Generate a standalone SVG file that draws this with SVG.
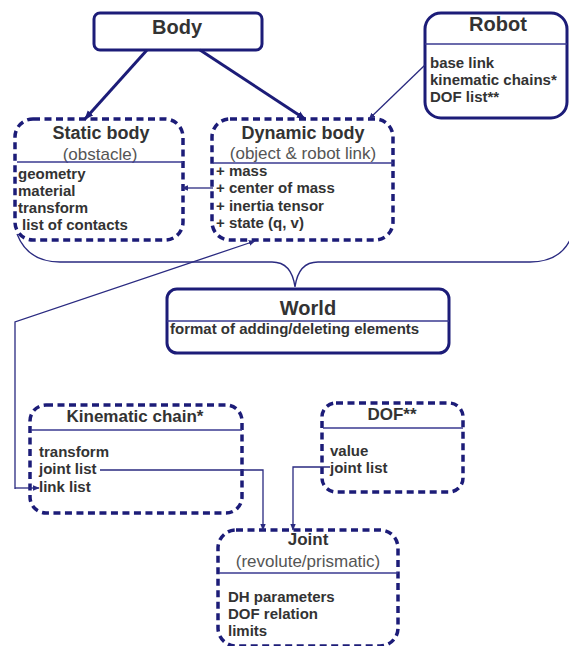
<svg xmlns="http://www.w3.org/2000/svg" width="569" height="646" viewBox="0 0 569 646">
<defs>
<marker id="ah" viewBox="0 0 10 10" refX="9" refY="5" markerWidth="9" markerHeight="9" markerUnits="userSpaceOnUse" orient="auto">
<path d="M0,1 L10,5 L0,9 Z" fill="#1c1c78"/>
</marker>
<marker id="ahs" viewBox="0 0 10 10" refX="9" refY="5" markerWidth="7" markerHeight="7" markerUnits="userSpaceOnUse" orient="auto">
<path d="M0,1 L10,5 L0,9 Z" fill="#2a2a80"/>
</marker>
</defs>
<style>
.box{fill:#fff;stroke:#1c1c78;stroke-width:3}
.dbox{fill:#fff;stroke:#1c1c78;stroke-width:3.5;stroke-dasharray:7 4.5}
.div{stroke:#3a3a90;stroke-width:1.5}
.title{font-family:"Liberation Sans",Arial,sans-serif;font-weight:bold;fill:#333;text-anchor:middle}
.sub{font-family:"Liberation Sans",Arial,sans-serif;font-size:17px;fill:#555;text-anchor:middle}
.item{font-family:"Liberation Sans",Arial,sans-serif;font-weight:bold;font-size:15px;fill:#333}
.thick{stroke:#1c1c78;stroke-width:3;fill:none}
.thin{stroke:#2a2a80;stroke-width:1.3;fill:none}
</style>
<rect width="569" height="646" fill="#fff"/>

<g id="body">
<rect class="box" x="94" y="13" width="168" height="37" rx="6"/>
<text class="title" x="177" y="34" font-size="20">Body</text>
</g>

<g id="robot">
<rect class="box" x="425" y="13" width="142" height="105" rx="16"/>
<text class="title" x="498" y="31" font-size="20">Robot</text>
<line class="div" x1="425" y1="44" x2="567" y2="44"/>
<text class="item" x="430" y="68">base link</text>
<text class="item" x="430" y="85">kinematic chains*</text>
<text class="item" x="430" y="102">DOF list**</text>
</g>

<g id="static-body">
<rect class="dbox" x="15" y="119" width="168" height="121" rx="18"/>
<text class="title" x="101" y="139" font-size="18">Static body</text>
<text class="sub" x="100" y="160">(obstacle)</text>
<line class="div" x1="17" y1="162" x2="183" y2="162"/>
<text class="item" x="18" y="179">geometry</text>
<text class="item" x="18" y="196">material</text>
<text class="item" x="18" y="213">transform</text>
<text class="item" x="22" y="230">list of contacts</text>
</g>

<g id="dynamic-body">
<rect class="dbox" x="212" y="119" width="181" height="121" rx="18"/>
<text class="title" x="303" y="139" font-size="18">Dynamic body</text>
<text class="sub" x="303" y="159">(object &amp; robot link)</text>
<line class="div" x1="213" y1="163" x2="393" y2="163"/>
<text class="item" x="216" y="176">+ mass</text>
<text class="item" x="216" y="193">+ center of mass</text>
<text class="item" x="216" y="211">+ inertia tensor</text>
<text class="item" x="216" y="228">+ state (q, v)</text>
</g>

<g id="world">
<rect class="box" x="167" y="289" width="282" height="64" rx="10"/>
<text class="title" x="308" y="315" font-size="20">World</text>
<line class="div" x1="167" y1="321" x2="449" y2="321"/>
<text class="item" x="170" y="334">format of adding/deleting elements</text>
</g>

<g id="kinematic-chain">
<rect class="dbox" x="30" y="405" width="212" height="108" rx="16"/>
<text class="title" x="135" y="422" font-size="17">Kinematic chain*</text>
<line class="div" x1="31" y1="430" x2="242" y2="430"/>
<text class="item" x="39" y="457">transform</text>
<text class="item" x="39" y="474">joint list</text>
<text class="item" x="39" y="492">link list</text>
</g>

<g id="dof">
<rect class="dbox" x="322" y="403" width="141" height="89" rx="14"/>
<text class="title" x="392" y="420" font-size="17">DOF**</text>
<line class="div" x1="323" y1="428" x2="463" y2="428"/>
<text class="item" x="330" y="456">value</text>
<text class="item" x="330" y="473">joint list</text>
</g>

<g id="joint">
<rect class="dbox" x="218" y="530" width="180" height="116" rx="18"/>
<text class="title" x="308" y="545" font-size="17">Joint</text>
<text class="sub" x="308" y="567">(revolute/prismatic)</text>
<line class="div" x1="219" y1="573" x2="398" y2="573"/>
<text class="item" x="228" y="602">DH parameters</text>
<text class="item" x="228" y="619">DOF relation</text>
<text class="item" x="228" y="636">limits</text>
</g>

<g id="connectors">
<path class="thin" d="M17,234 C24,252 38,262 60,262 L272,262 C286,262 293,272 295,287 C297,272 304,262 318,262 L530,262 C550,262 563,254 570,240"/>
<line class="thick" x1="147" y1="50" x2="85" y2="119" marker-end="url(#ah)"/>
<line class="thick" x1="200" y1="50" x2="305" y2="119" marker-end="url(#ah)"/>
<line class="thin" x1="425" y1="65" x2="369" y2="119" marker-end="url(#ahs)"/>
<line class="thin" x1="213" y1="188" x2="182" y2="188" marker-end="url(#ahs)"/>
<polyline class="thin" points="15,489 15,322 255,241" marker-end="url(#ahs)"/>
<line class="thin" x1="15" y1="488" x2="39" y2="488" marker-end="url(#ahs)"/>
<polyline class="thin" points="100,470 263,470 263,530" marker-end="url(#ahs)"/>
<polyline class="thin" points="330,467 293,467 293,530" marker-end="url(#ahs)"/>
</g>
</svg>
